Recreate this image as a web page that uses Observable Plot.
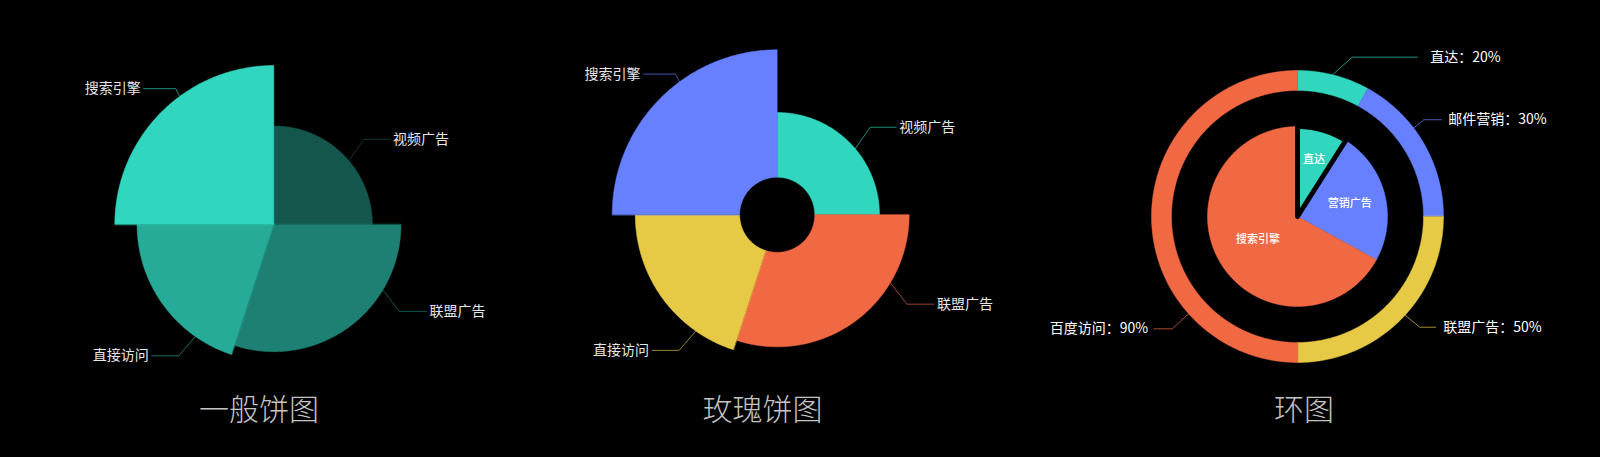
<!DOCTYPE html>
<html><head><meta charset="utf-8">
<script src="https://cdn.jsdelivr.net/npm/d3@7"></script>
<script src="https://cdn.jsdelivr.net/npm/@observablehq/plot@0.6"></script>
<style>
html,body{margin:0;padding:0;background:#000;width:1600px;height:457px;overflow:hidden}
#root{position:relative;width:1600px;height:457px;background:#000}
#root svg{position:absolute;top:0}
</style></head><body><div id="root"></div>
<script>
// ---------- data ----------
const titles = ["一般饼图", "玫瑰饼图", "环图"];
const roseCategories = ["视频广告", "联盟广告", "直接访问", "搜索引擎"];
const roseShares = [25, 30, 20, 25];        // angular share (%)
const roseValues = [62, 80, 86, 100];       // radius value
const roseColors1 = ["#14564c", "#1d8073", "#27ab99", "#31d6bf"];
const roseColors2 = ["#31d6bf", "#f06943", "#e6c944", "#6680ff"];
const ringCategories = ["直达", "邮件营销", "联盟广告", "百度访问"];
const ringValues = [16, 34, 50, 100];
const ringPercents = [20, 30, 50, 90];
const ringColors = ["#31d6bf", "#6680ff", "#e6c944", "#f06943"];
const innerCategories = ["直达", "营销广告", "搜索引擎"];
const innerValues = [9, 24, 67];
const innerColors = ["#31d6bf", "#6680ff", "#f06943"];

// ---------- layout (styling, not data) ----------
const FONT = '"Noto Sans CJK SC","Noto Sans",sans-serif';
const H = 457;
const roseLabelLayout = [
  {angle: 49.7, dx: 15, dy: -21.4, len: 26, gap: 3},
  {angle: 121, dx: 16.6, dy: 21.4, len: 27, gap: 3},
  {angle: 215, dx: -16.7, dy: 19.3, len: 27, gap: 3},
  {angle: 323.7, dx: -4, dy: -7.7, len: 32, gap: 3}
];
const ringLabelLayout = [
  {angle: 13.9, dx: 19.6, dy: -17.6, len: 65, gap: 13},
  {angle: 52.7, dx: 10.2, dy: -8.3, len: 17.7, gap: 6.7},
  {angle: 132.5, dx: 14.7, dy: 12.1, len: 15.7, gap: 7.7},
  {angle: 228.2, dx: -16.5, dy: 15, len: 18.4, gap: 5.6}
];
const innerLabelFrac = [0.66, 0.6, 0.51];

// ---------- helpers ----------
const rad = a => a * Math.PI / 180;
function sectors(names, shares) {
  const total = d3.sum(shares);
  let a = 0;
  return names.map((name, i) => {
    const a0 = a; a += shares[i] / total * 360;
    return {name, a0, a1: a, i};
  });
}
function polygon(name, a0, a1, r0, r1) {
  const pts = [];
  const n = Math.max(2, Math.ceil((a1 - a0) / 0.5));
  for (let k = 0; k <= n; k++) {
    const t = rad(a0 + (a1 - a0) * k / n);
    pts.push({name, x: r1 * Math.sin(t), y: r1 * Math.cos(t)});
  }
  if (r0 > 0) {
    for (let k = n; k >= 0; k--) {
      const t = rad(a0 + (a1 - a0) * k / n);
      pts.push({name, x: r0 * Math.sin(t), y: r0 * Math.cos(t)});
    }
  } else pts.push({name, x: 0, y: 0});
  return pts;
}
// leader line in data units; offsets given in px, s = px per unit
function leader(name, text, r, L, s) {
  const t = rad(L.angle);
  const ax = r * Math.sin(t), ay = r * Math.cos(t);
  const ex = ax + L.dx / s, ey = ay - L.dy / s;
  const side = L.dx >= 0 ? 1 : -1;
  const fx = ex + side * L.len / s;
  return {
    line: [{name, x: ax, y: ay}, {name, x: ex, y: ey}, {name, x: fx, y: ey}],
    label: {name, text, x: fx, y: ey, side, gap: L.gap}
  };
}
function panel({left, width, cx, cy, s, marks, title, domain, range}) {
  const svg = Plot.plot({
    width, height: H, margin: 0,
    x: {domain: [-cx / s, (width - cx) / s], range: [0, width], axis: null},
    y: {domain: [-(H - cy) / s, cy / s], range: [H, 0], axis: null},
    color: {type: "ordinal", domain, range},
    style: {background: "transparent", overflow: "visible", fontFamily: FONT},
    marks: [
      ...marks,
      Plot.text([title], {frameAnchor: "bottom", lineAnchor: "middle", dy: -47, text: d => d,
        fontSize: 30, fill: "#c4c4c4", fontWeight: 300, fontFamily: FONT})
    ]
  });
  svg.style.left = left + "px";
  document.getElementById("root").appendChild(svg);
}
function labelTexts(labels, fill) {
  return labels.map(d => Plot.text([d], {x: "x", y: "y", text: "text",
    textAnchor: d.side > 0 ? "start" : "end", dx: d.side * d.gap,
    fill, fontSize: 14, fontFamily: FONT, lineAnchor: "middle"}));
}

// ---------- rose charts ----------
function rosePanel({left, width, cx, cy, maxR, innerR, colors, title}) {
  const s = maxR / d3.max(roseValues);
  const secs = sectors(roseCategories, roseShares);
  const polys = secs.flatMap(d => polygon(d.name, d.a0, d.a1, innerR / s, roseValues[d.i]));
  const leaders = secs.map(d => leader(d.name, d.name, roseValues[d.i], roseLabelLayout[d.i], s));
  panel({
    left, width, cx, cy, s, title, domain: roseCategories, range: colors,
    marks: [
      Plot.line(polys, {x: "x", y: "y", z: "name", fill: "name", stroke: "name", strokeWidth: 0.5, curve: "linear-closed"}),
      Plot.line(leaders.flatMap(d => d.line), {x: "x", y: "y", z: "name", stroke: "name", strokeOpacity: 0.65, strokeWidth: 1}),
      ...labelTexts(leaders.map(d => d.label), "#e6e6e6")
    ]
  });
}
rosePanel({left: 0, width: 517, cx: 273.3, cy: 224, maxR: 159, innerR: 0, colors: roseColors1, title: titles[0]});
rosePanel({left: 517, width: 490, cx: 259.7, cy: 214.3, maxR: 165, innerR: 37.5, colors: roseColors2, title: titles[1]});

// ---------- ring chart ----------
(function () {
  const s = 1, rOut = 146, rIn = 126, rPie = 90;
  const ring = sectors(ringCategories, ringValues);
  const inner = sectors(innerCategories, innerValues);
  const ringPolys = ring.flatMap(d => polygon("r:" + d.name, d.a0, d.a1, rIn, rOut));
  const innerPolys = inner.filter(d => d.i > 0).flatMap(d => polygon("p:" + d.name, d.a0, d.a1, 0, rPie));
  const firstPoly = polygon("p:" + inner[0].name, inner[0].a0, inner[0].a1, 0, rPie);
  const leaders = ring.map(d => leader("r:" + d.name, `${d.name}：${ringPercents[d.i]}%`, rOut, ringLabelLayout[d.i], s));
  const innerLabels = inner.map(d => {
    const t = rad((d.a0 + d.a1) / 2), r = rPie * innerLabelFrac[d.i];
    return {text: d.name, x: r * Math.sin(t), y: r * Math.cos(t)};
  });
  const domain = [...ringCategories.map(c => "r:" + c), ...innerCategories.map(c => "p:" + c)];
  const range = [...ringColors, ...innerColors];
  panel({
    left: 1007, width: 593, cx: 290, cy: 216, s, title: titles[2], domain, range,
    marks: [
      Plot.line(ringPolys, {x: "x", y: "y", z: "name", fill: "name", stroke: "name", strokeWidth: 0.5, curve: "linear-closed"}),
      Plot.line(innerPolys, {x: "x", y: "y", z: "name", fill: "name", stroke: "name", strokeWidth: 0.5, curve: "linear-closed"}),
      Plot.line(firstPoly, {x: "x", y: "y", z: "name", fill: "name", stroke: "#000", strokeWidth: 5, strokeLinejoin: "round", curve: "linear-closed"}),
      Plot.line(leaders.flatMap(d => d.line), {x: "x", y: "y", z: "name", stroke: "name", strokeOpacity: 0.7, strokeWidth: 1}),
      ...labelTexts(leaders.map(d => d.label), "#ffffff"),
      Plot.text(innerLabels, {x: "x", y: "y", text: "text", fill: "#fff", fontSize: 11, fontWeight: 500, fontFamily: FONT, lineAnchor: "middle"})
    ]
  });
})();
</script></body></html>
